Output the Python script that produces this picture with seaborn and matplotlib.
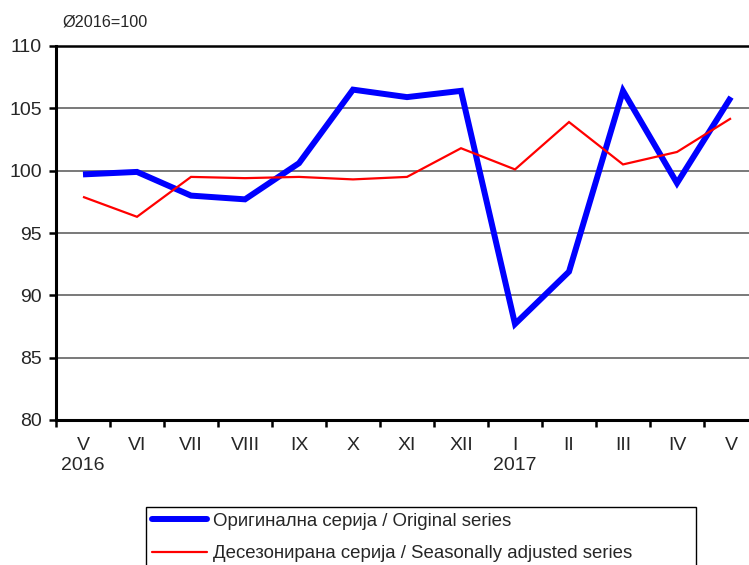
import pandas as pd
import matplotlib
matplotlib.use("Agg")
import matplotlib.pyplot as plt
from matplotlib.patches import Rectangle
import seaborn as sns

# ==========================
# Data
# ==========================

months = ["V", "VI", "VII", "VIII", "IX", "X", "XI", "XII",
          "I", "II", "III", "IV", "V"]
years = ["2016", "", "", "", "", "", "", "",
         "2017", "", "", "", ""]

original = [99.7, 99.9, 98.0, 97.7, 100.6, 106.5, 105.9, 106.4,
            87.7, 91.9, 106.4, 99.0, 105.9]
adjusted = [97.9, 96.3, 99.5, 99.4, 99.5, 99.3, 99.5, 101.8,
            100.1, 103.9, 100.5, 101.5, 104.2]

label_orig = "Оригинална серија / Original series"
label_adj = "Десезонирана серија / Seasonally adjusted series"

df = pd.DataFrame({
    "pos": list(range(len(months))) * 2,
    "value": original + adjusted,
    "series": [label_orig] * len(months) + [label_adj] * len(months),
})

# ==========================
# Style
# ==========================

sns.set_style("white")
plt.rcParams["font.family"] = ["Liberation Sans", "DejaVu Sans"]

fig = plt.figure(figsize=(7.49, 5.65), dpi=100)
ax = fig.add_axes([56 / 749, 145 / 565, 702 / 749, 374 / 565])

sns.lineplot(
    data=df,
    x="pos",
    y="value",
    hue="series",
    size="series",
    sizes={label_orig: 4.3, label_adj: 1.6},
    palette={label_orig: "#0000ff", label_adj: "#ff0000"},
    ax=ax,
    legend=False,
)

for line in ax.get_lines():
    line.set_solid_joinstyle("miter")
    line.set_solid_capstyle("butt")

ax.set_xlim(-0.5, len(months) - 0.5)
ax.set_ylim(80, 110)

# gridlines
for y in [85, 90, 95, 100, 105]:
    ax.axhline(y, color="#555555", lw=1.1, zorder=0)

# y axis
ax.set_yticks([80, 85, 90, 95, 100, 105, 110])
ax.tick_params(axis="y", which="major", direction="out", length=5,
               width=1.8, pad=5, labelsize=14, left=True, color="black")

# x axis: ticks between categories, labels at centers
ax.set_xticks([i - 0.5 for i in range(len(months) + 1)])
ax.set_xticklabels([])
ax.set_xticks(range(len(months)), minor=True)
ax.set_xticklabels(
    [m + ("\n" + y if y else "\n ") for m, y in zip(months, years)],
    minor=True,
    linespacing=1.25,
)
ax.tick_params(axis="x", which="major", direction="out", length=5,
               width=1.8, bottom=True, color="black")
ax.tick_params(axis="x", which="minor", length=0, pad=12, labelsize=14)

ax.set_xlabel("")
ax.set_ylabel("")

for side in ["left", "bottom", "top"]:
    ax.spines[side].set_visible(True)
    ax.spines[side].set_color("black")
ax.spines["left"].set_linewidth(2.2)
ax.spines["bottom"].set_linewidth(2.2)
ax.spines["top"].set_linewidth(1.8)
ax.spines["right"].set_visible(False)

fig.text(62 / 749, 1 - 22 / 565, "Ø2016=100", fontsize=11.7, va="center")

# ==========================
# Legend (box runs off the bottom edge)
# ==========================

fig.patches.append(Rectangle(
    (146 / 749, -0.05), 550 / 749, 0.05 + 58 / 565,
    transform=fig.transFigure, fill=False,
    edgecolor="black", lw=1.0,
))

handles = [
    plt.Line2D([], [], color="#0000ff", lw=4.3, solid_capstyle="round"),
    plt.Line2D([], [], color="#ff0000", lw=1.6),
]
leg = fig.legend(
    handles,
    [label_orig, label_adj],
    loc="upper left",
    bbox_to_anchor=(146 / 749, 1 - 507 / 565),
    fontsize=13.4,
    frameon=False,
    borderpad=0.3,
    handlelength=3.0,
    handletextpad=0.3,
    labelspacing=0.85,
    borderaxespad=0,
)

plt.savefig("out.png", dpi=100)
plt.close()
